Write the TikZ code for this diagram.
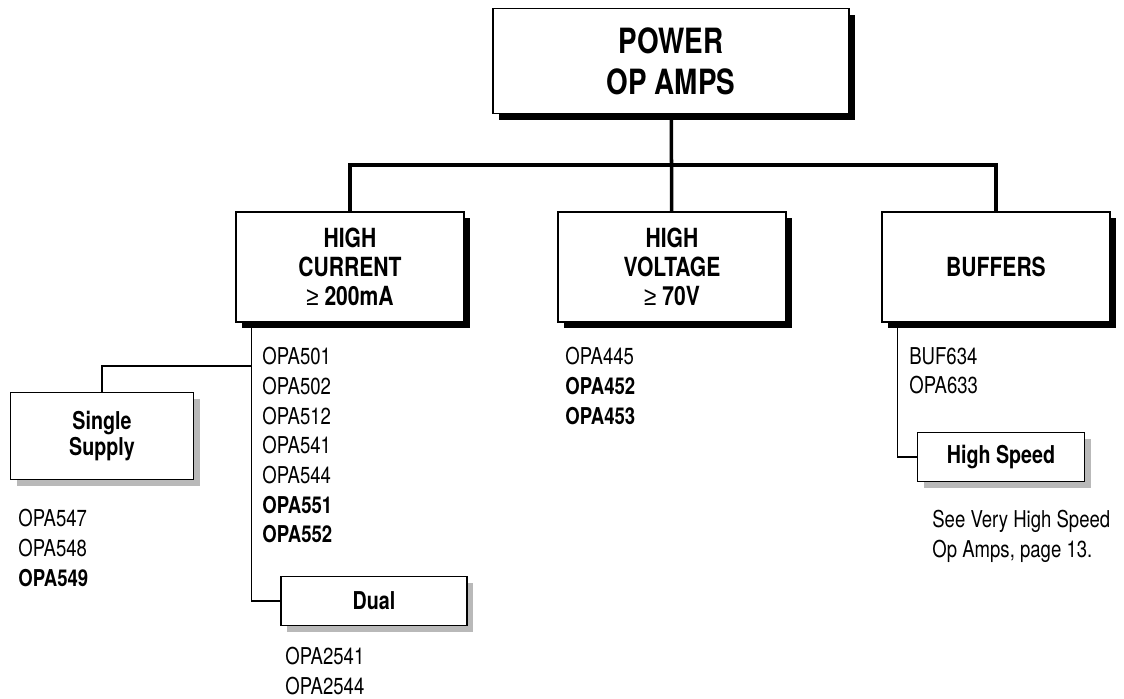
\documentclass[tikz,border=0pt]{standalone}
\usepackage{fontspec}
\setmainfont{TeX Gyre Heros}[FakeStretch=0.8]
\newfontfamily\geqfont{Liberation Sans}[FakeStretch=0.85]
\usetikzlibrary{calc}
\usetikzlibrary{shadows}
\newdimen\pxu
\pxu=0.02cm
\newcommand{\atleast}{{\geqfont\mdseries ≥}}

\begin{document}
\begin{tikzpicture}[x=\pxu, y=-\pxu, every node/.style={inner sep=0pt},
    topbox/.style={draw, line width=0.6pt, fill=white, align=center,
        minimum width=356\pxu, minimum height=105\pxu,
        font=\bfseries\fontsize{19.8}{23.3}\selectfont,
        drop shadow={shadow xshift=6\pxu, shadow yshift=-6\pxu, fill=black, opacity=1}},
    catbox/.style={draw, line width=0.6pt, fill=white, align=center,
        minimum width=228\pxu, minimum height=110\pxu,
        font=\bfseries\fontsize{15}{16.5}\selectfont,
        drop shadow={shadow xshift=6\pxu, shadow yshift=-6\pxu, fill=black, opacity=1}},
    subbox/.style={draw, line width=0.6pt, fill=white, align=center,
        minimum height=49\pxu,
        font=\bfseries\fontsize{14}{14.8}\selectfont,
        drop shadow={shadow xshift=6\pxu, shadow yshift=-6\pxu, fill=gray!55, opacity=1}},
    partlist/.style={anchor=north west, align=left, font=\fontsize{13.2}{16.9}\selectfont},
    busline/.style={line width=2pt},
    tapline/.style={line width=1.1pt}]
\useasboundingbox (0,0) rectangle (1124,698);

\node[topbox] (power) at (671,61) {POWER\\OP AMPS};

\node[catbox] (hc) at (350,267) {HIGH\\CURRENT\\\atleast\ 200mA};
\node[catbox] (hv) at (672,267) {HIGH\\VOLTAGE\\\atleast\ 70V};
\node[catbox] (buf) at (996,267) {BUFFERS};

\coordinate (bus) at (672,165);
\draw[busline] (power) -- (hv);
\draw[busline] (hc) |- (bus) -| (buf);

\node[subbox, minimum width=183\pxu, minimum height=87\pxu] (single) at (102,436) {Single\\Supply};
\node[subbox, minimum width=186\pxu] (dual) at (374,601) {Dual};
\node[subbox, minimum width=167\pxu] (hspeed) at (1001,457) {High Speed};

\coordinate (hctap) at ($(hc.south west)+(16,0)$);
\coordinate (hcbend) at ($(hctap)+(0,43)$);
\coordinate (buftap) at ($(buf.south west)+(16,0)$);
\draw[tapline] (hctap) |- (dual);
\draw[tapline] (hcbend) -| (single);
\draw[tapline] (buftap) |- (hspeed);

\node[partlist] (hclist) at (262,347) {OPA501\\OPA502\\OPA512\\OPA541\\OPA544\\\textbf{OPA551}\\\textbf{OPA552}};
\node[partlist] (hvlist) at (565,347) {OPA445\\\textbf{OPA452}\\\textbf{OPA453}};
\node[partlist] (buflist) at (909,347) {BUF634\\OPA633};
\node[partlist] (singlelist) at (18,509) {OPA547\\OPA548\\\textbf{OPA549}};
\node[partlist] (duallist) at (285,647) {OPA2541\\OPA2544};
\node[partlist] (hsnote) at (932,510) {See Very High Speed\\Op Amps, page 13.};
\end{tikzpicture}
\end{document}
